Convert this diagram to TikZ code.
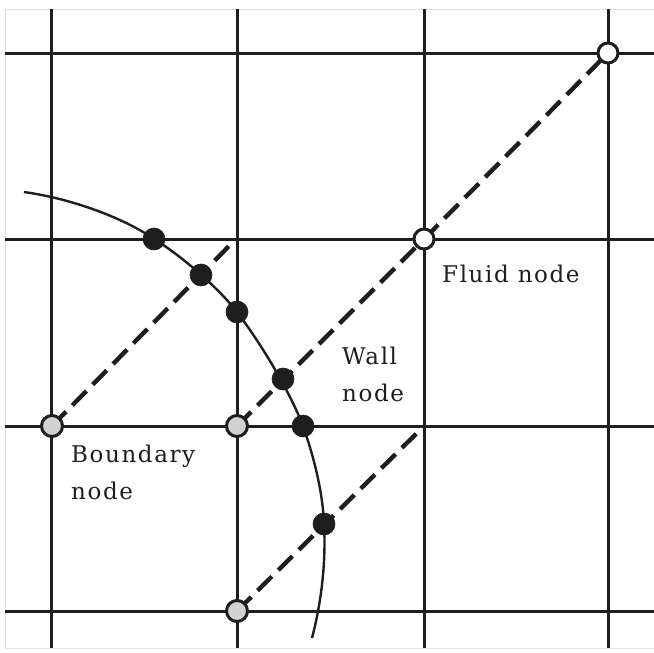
\documentclass[tikz,border=0pt]{standalone}
\usepackage{fontspec}
\setmainfont{DejaVu Serif}[LetterSpace=7]
\definecolor{ink}{HTML}{1E1E1E}
\definecolor{bnd}{HTML}{D2D2D2}
\tikzset{
  grid line/.style={draw=ink,line width=3pt},
  link/.style={draw=ink,line width=4.4pt,dash pattern=on 20pt off 9pt},
  wallcurve/.style={draw=ink,line width=2.4pt},
  wallnode/.style={circle,fill=ink,draw=ink,line width=.6pt,minimum size=22pt,inner sep=0pt},
  bndnode/.style={circle,fill=bnd,draw=ink,line width=3pt,minimum size=21pt,inner sep=0pt},
  fluidnode/.style={circle,fill=white,draw=ink,line width=3pt,minimum size=20pt,inner sep=0pt},
  lab/.style={font=\fontsize{23pt}{37pt}\selectfont,text=ink,align=left,anchor=north west,inner sep=0pt}
}
\begin{document}
\begin{tikzpicture}[x=1pt,y=-1pt]
\useasboundingbox (0,0) rectangle (654,653);
\fill[white] (0,0) rectangle (654,653);
\draw[draw=black!12,line width=1pt] (5,9) rectangle (654,648);
\foreach \x/\n in {51/a,237/b,424/c,608/d}{
  \coordinate (t\n) at (\x,9); \coordinate (u\n) at (\x,648);
  \draw[grid line] (t\n) -- (u\n);}
\foreach \y/\n in {53/a,239/b,426/c,611/d}{
  \coordinate (l\n) at (5,\y); \coordinate (r\n) at (654,\y);
  \draw[grid line] (l\n) -- (r\n);}
\coordinate (c0) at (24,192);
\coordinate (c9) at (312,638);
\coordinate (e1) at (232,243);
\coordinate (e2) at (419,431);
\coordinate (n1) at (52,426);
\coordinate (n2) at (237,426);
\coordinate (n3) at (237,611);
\coordinate (n4) at (424,239);
\coordinate (n5) at (608,53);
\draw[link] (n1) -- (e1);
\draw[link] (n2) -- (n4);
\draw[link] (n4) -- (n5);
\draw[link] (n3) -- (e2);
\draw[wallcurve] (c0) .. controls (80,200) and (130,222) .. (154,239)
  .. controls (185,258) and (222,292) .. (237,312)
  .. controls (262,345) and (290,392) .. (303,426)
  .. controls (315,460) and (323,495) .. (324,524)
  .. controls (326,560) and (322,600) .. (c9);
\node[bndnode] (b1) at (n1) {};
\node[bndnode] (b2) at (n2) {};
\node[bndnode] (b3) at (n3) {};
\node[fluidnode] (f1) at (n4) {};
\node[fluidnode] (f2) at (n5) {};
\node[wallnode] (w1) at (154,239) {};
\node[wallnode] (w2) at (201,275) {};
\node[wallnode] (w3) at (237,312) {};
\node[wallnode] (w4) at (283,379) {};
\node[wallnode] (w5) at (303,426) {};
\node[wallnode] (w6) at (324,524) {};
\node[lab] (t1) at (442,265) {Fluid node};
\node[lab] (t2) at (342,347) {Wall\\node};
\node[lab] (t3) at (71,445) {Boundary\\node};
\end{tikzpicture}
\end{document}
